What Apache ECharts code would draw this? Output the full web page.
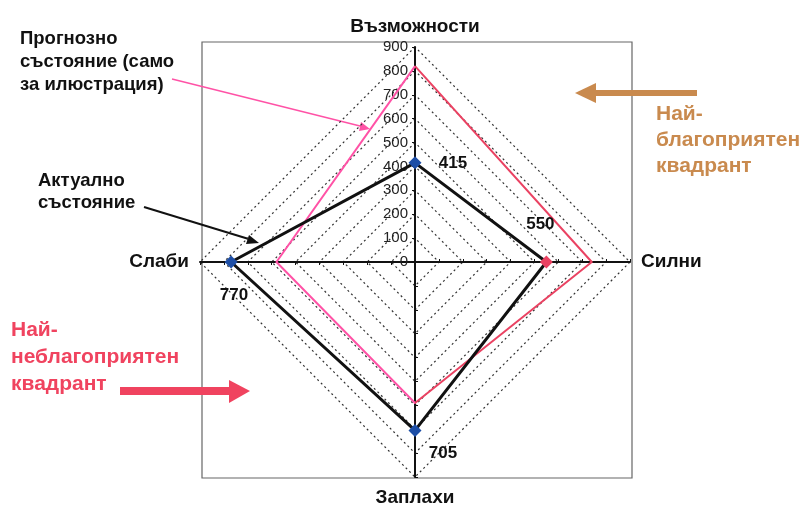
<!DOCTYPE html>
<html><head><meta charset="utf-8">
<script src="https://cdn.jsdelivr.net/npm/echarts@6/dist/echarts.min.js"></script>
<style>html,body{margin:0;padding:0;background:#fff}#c{width:808px;height:513px}</style>
</head><body><div id="c"></div>
<script>
// Axes in ECharts radar order (top, then counter-clockwise): top, left, bottom, right
const indicatorNames = ['Възможности', 'Слаби', 'Заплахи', 'Силни'];
const axisMin = 0;
const axisMax = 900;
const splitCount = 9;
const actualValues = [415, 770, 705, 550];
const forecastValues = [820, 580, 590, 740];

const FONT = 'Liberation Sans';
const BLUE = '#1d4ea6';
const RED = '#ea4262';
const PINK = '#ff52a6';

const markerColors = [BLUE, BLUE, BLUE, RED];
const labelOffsets = [[38, 0], [3, 33], [28, 23], [-6, -38]];

const CENTER = [415, 262];
const RADIUS = 215;

const chart = echarts.init(document.getElementById('c'));
chart.setOption({
  backgroundColor: '#fff',
  animation: false,
  radar: {
    center: CENTER,
    radius: RADIUS,
    startAngle: 90,
    shape: 'polygon',
    splitNumber: splitCount,
    nameGap: 11,
    indicator: indicatorNames.map((n, i) => ({
      name: n, min: axisMin, max: axisMax,
      axisLabel: i === 0 ? { show: true, color: '#222', fontFamily: FONT, fontSize: 15, margin: 7 } : { show: false }
    })),
    axisName: { color: '#111', fontFamily: FONT, fontWeight: 'bold', fontSize: 19 },
    splitLine: { lineStyle: { color: '#333', type: [2, 3], width: 1.2 } },
    splitArea: { show: false },
    axisLine: { lineStyle: { color: '#111', width: 2 } },
    axisTick: { show: true, length: 3, lineStyle: { color: '#111', width: 1 } },
    axisLabel: { show: false }
  },
  polar: { center: CENTER, radius: RADIUS },
  angleAxis: { type: 'category', data: indicatorNames, startAngle: 90, clockwise: false, boundaryGap: false, show: false },
  radiusAxis: { min: axisMin, max: axisMax, show: false },
  graphic: [
    { type: 'rect', z: -10, shape: { x: 202, y: 42, width: 430, height: 436 },
      style: { fill: 'none', stroke: '#666', lineWidth: 1.2 } },
    // forecast note
    { type: 'text', left: 20, top: 27, style: { text: 'Прогнозно\nсъстояние (само\nза илюстрация)', fontFamily: FONT, fontWeight: 'bold', fontSize: 18.5, lineHeight: 23, fill: '#111' } },
    { type: 'line', shape: { x1: 172, y1: 79, x2: 364, y2: 127 }, style: { stroke: PINK, lineWidth: 1.6 } },
    { type: 'polygon', shape: { points: [[370, 129], [361, 122], [359, 131]] }, style: { fill: PINK } },
    // actual note
    { type: 'text', left: 38, top: 170, style: { text: 'Актуално\nсъстояние', fontFamily: FONT, fontWeight: 'bold', fontSize: 18.5, lineHeight: 22, fill: '#111' } },
    { type: 'line', shape: { x1: 144, y1: 207, x2: 252, y2: 240 }, style: { stroke: '#111', lineWidth: 2 } },
    { type: 'polygon', shape: { points: [[259, 243], [249, 235], [246, 244]] }, style: { fill: '#111' } },
    // favorable quadrant
    { type: 'text', left: 656, top: 101, style: { text: 'Най-\nблагоприятен\nквадрант', fontFamily: FONT, fontWeight: 'bold', fontSize: 21, lineHeight: 26, fill: '#c98a4e' } },
    { type: 'rect', shape: { x: 592, y: 90, width: 105, height: 6 }, style: { fill: '#c98a4e' } },
    { type: 'polygon', shape: { points: [[575, 93], [596, 83], [596, 103]] }, style: { fill: '#c98a4e' } },
    // unfavorable quadrant
    { type: 'text', left: 11, top: 317, style: { text: 'Най-\nнеблагоприятен\nквадрант', fontFamily: FONT, fontWeight: 'bold', fontSize: 21, lineHeight: 27, fill: '#f0435f' } },
    { type: 'rect', shape: { x: 120, y: 387, width: 112, height: 8 }, style: { fill: '#f0435f' } },
    { type: 'polygon', shape: { points: [[250, 391], [229, 380], [229, 403]] }, style: { fill: '#f0435f' } }
  ],
  series: [{
    type: 'radar',
    z: 3,
    data: [
      {
        value: forecastValues,
        symbol: 'none',
        lineStyle: {
          width: 2,
          color: new echarts.graphic.LinearGradient(0, 0, 1, 0, [
            { offset: 0, color: PINK }, { offset: 0.44, color: PINK },
            { offset: 0.44, color: RED }, { offset: 1, color: RED }
          ])
        }
      },
      {
        value: actualValues,
        symbol: 'none',
        lineStyle: { width: 3, color: '#111' }
      }
    ]
  }, {
    type: 'scatter',
    coordinateSystem: 'polar',
    z: 5,
    symbol: 'diamond',
    symbolSize: [13, 13],
    itemStyle: { opacity: 1 },
    data: actualValues.map((v, i) => ({
      value: [v, i],
      itemStyle: { color: markerColors[i], opacity: 1 },
      label: {
        show: true, position: 'inside', offset: labelOffsets[i],
        formatter: String(v), opacity: 1,
        color: '#111', fontFamily: FONT, fontWeight: 'bold', fontSize: 17,
        textBorderWidth: 0
      }
    }))
  }]
});
</script></body></html>
